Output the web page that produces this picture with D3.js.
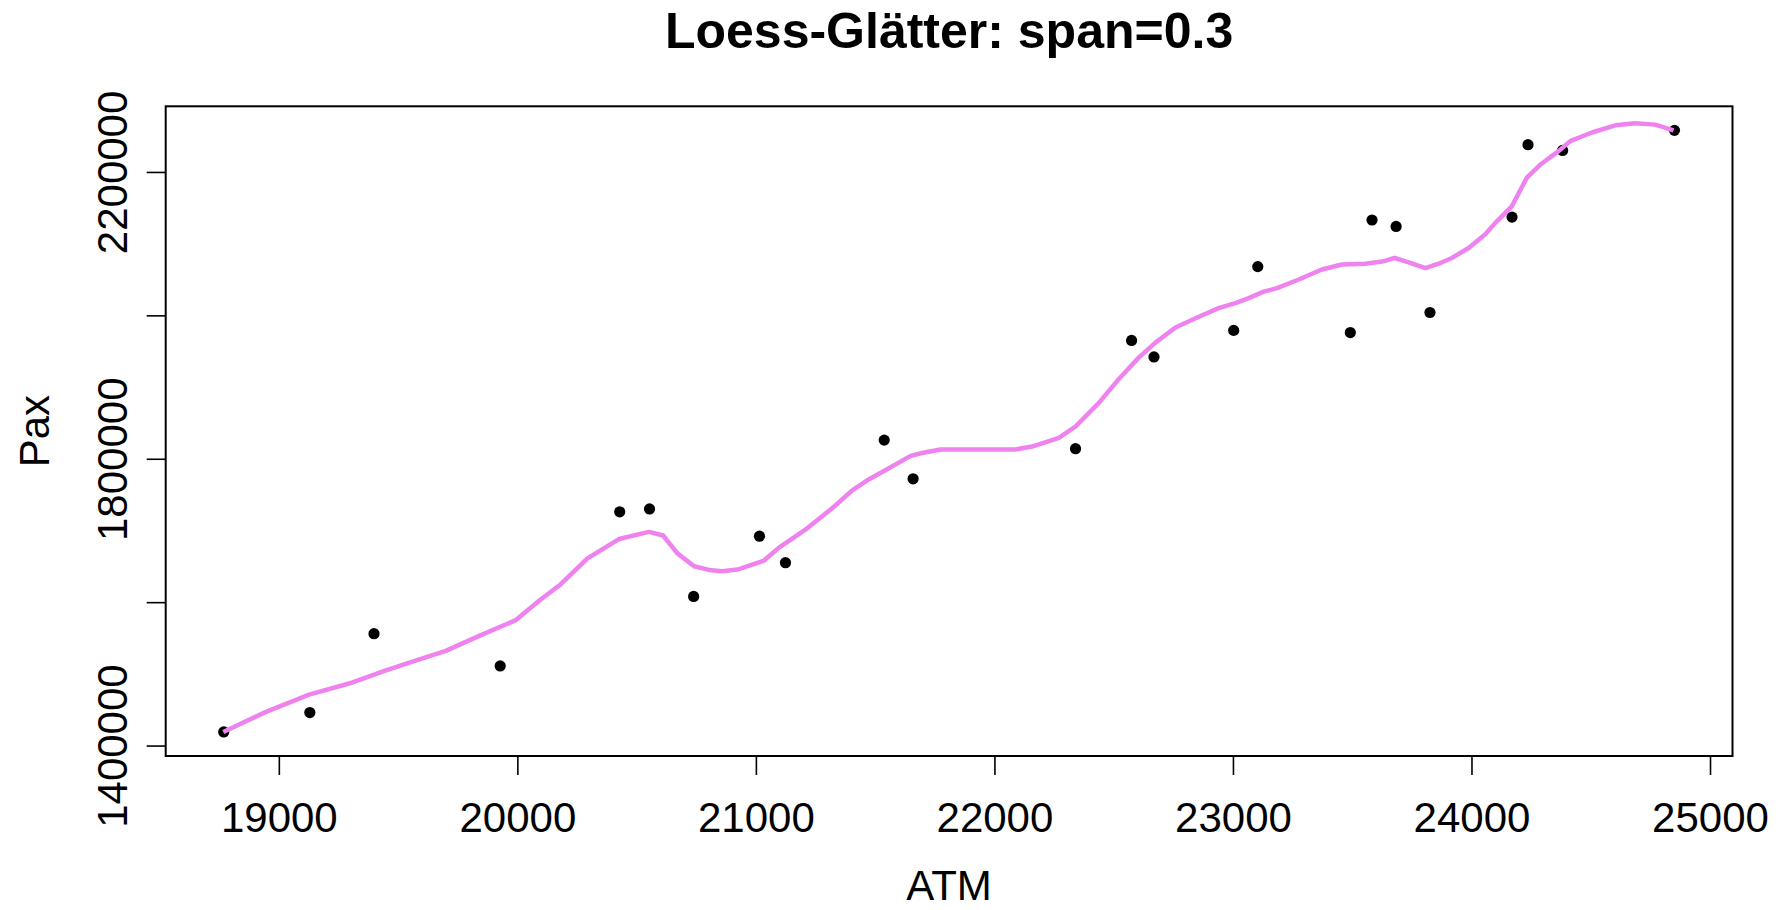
<!DOCTYPE html>
<html>
<head>
<meta charset="utf-8">
<script src="https://cdn.jsdelivr.net/npm/d3@7"></script>
<style>
  html, body { margin: 0; padding: 0; background: #fff; }
  svg { display: block; font-family: "Liberation Sans", Arial, Helvetica, sans-serif; }
</style>
</head>
<body>
<svg width="1789" height="910"></svg>
<script>
// Beobachtungen (ATM / Pax)
const atm = [18769, 19130, 19399, 19928, 20429, 20554, 20739, 21015, 21124, 21538, 21659, 22340,
  22575, 22669, 23003, 23104, 23492, 23583, 23684, 23826, 24170, 24237, 24382, 24851]
const pax = [1419000, 1446000, 1556000, 1511000, 1726000, 1730000, 1608000, 1692000, 1655000, 1826000, 1772000, 1814000,
  1965000, 1942000, 1979000, 2068000, 1976000, 2133000, 2124000, 2004000, 2137000, 2238000, 2230000, 2258000]

const loessX = [18767, 18946, 19127, 19309, 19449, 19560, 19700, 19840, 19994, 20091, 20182, 20294,
  20426, 20552, 20611, 20671, 20741, 20803, 20859, 20929, 21034, 21097, 21215, 21320,
  21404, 21467, 21537, 21649, 21697, 21774, 21977, 22089, 22158, 22270, 22340, 22438,
  22521, 22605, 22675, 22759, 22850, 22940, 23010, 23066, 23129, 23185, 23276, 23373,
  23457, 23555, 23625, 23678, 23737, 23807, 23862, 23918, 23988, 24058, 24100, 24169,
  24232, 24288, 24365, 24414, 24505, 24603, 24686, 24770, 24847]
const loessY = [1419000, 1447000, 1471000, 1488000, 1505000, 1517000, 1532000, 1553000, 1575000, 1602000, 1625000, 1661000,
  1688000, 1698000, 1693000, 1668000, 1650000, 1645000, 1643000, 1646000, 1658000, 1676000, 1703000, 1731000,
  1756000, 1770000, 1783000, 1804000, 1808000, 1813000, 1813000, 1813000, 1817000, 1829000, 1845000, 1878000,
  1911000, 1941000, 1962000, 1983000, 1997000, 2010000, 2017000, 2024000, 2033000, 2038000, 2050000, 2064000,
  2071000, 2072000, 2075000, 2080000, 2074000, 2066000, 2072000, 2080000, 2094000, 2113000, 2129000, 2152000,
  2192000, 2210000, 2229000, 2243000, 2255000, 2265000, 2268000, 2266000, 2258000]

const xTicks = [19000, 20000, 21000, 22000, 23000, 24000, 25000]
const yTicks = [1400000, 1600000, 1800000, 2000000, 2200000]
const yTickLabels = [1400000, 1800000, 2200000]  // R laesst ueberlappende Beschriftungen weg

const title = 'Loess-Glätter: span=0.3'
const xLabel = 'ATM'
const yLabel = 'Pax'

// Plotbereich
const plotLeft = 165.7
const plotRight = 1732.5
const plotTop = 106.3
const plotBottom = 756
const fontSize = 42

const svg = d3.select('svg')

// R-typische Achsenerweiterung um 4 %
const pad = (ext) => {
  const r = ext[1] - ext[0]
  return [ext[0] - 0.04 * r, ext[1] + 0.04 * r]
}

const xScale = d3.scaleLinear().domain(pad(d3.extent(atm))).range([plotLeft, plotRight])
const yScale = d3.scaleLinear().domain(pad(d3.extent(pax))).range([plotBottom, plotTop])

// x-Achse
const xAxis = svg.append('g')
  .attr('transform', `translate(0, ${plotBottom})`)
  .call(d3.axisBottom(xScale).tickValues(xTicks).tickSize(19).tickFormat(d3.format('d')))
xAxis.select('.domain').remove()
xAxis.selectAll('line').attr('stroke', '#000').attr('stroke-width', 1.6)
xAxis.selectAll('text')
  .attr('y', 75.7)
  .attr('dy', null)
  .attr('fill', '#000')
  .style('font-size', fontSize + 'px')
  .style('font-family', '"Liberation Sans", Arial, sans-serif')

// y-Achse
const yAxis = svg.append('g')
  .attr('transform', `translate(${plotLeft}, 0)`)
  .call(d3.axisLeft(yScale).tickValues(yTicks).tickSize(19)
    .tickFormat((d) => yTickLabels.includes(d) ? d3.format('d')(d) : ''))
yAxis.select('.domain').remove()
yAxis.selectAll('line').attr('stroke', '#000').attr('stroke-width', 1.6)
yAxis.selectAll('text')
  .attr('x', null)
  .attr('dy', null)
  .attr('text-anchor', 'middle')
  .attr('transform', 'translate(-38.4, 0) rotate(-90)')
  .attr('fill', '#000')
  .style('font-size', fontSize + 'px')
  .style('font-family', '"Liberation Sans", Arial, sans-serif')

// Rahmen
svg.append('rect')
  .attr('x', plotLeft)
  .attr('y', plotTop)
  .attr('width', plotRight - plotLeft)
  .attr('height', plotBottom - plotTop)
  .attr('fill', 'none')
  .attr('stroke', '#000')
  .attr('stroke-width', 2)

// Punkte
svg.append('g')
  .selectAll('circle')
  .data(atm)
  .enter()
  .append('circle')
  .attr('cx', (d) => xScale(d))
  .attr('cy', (d, i) => yScale(pax[i]))
  .attr('r', 5.6)
  .attr('fill', '#000')

// Loess-Linie
const line = d3.line()
  .x((d) => xScale(d[0]))
  .y((d) => yScale(d[1]))
svg.append('path')
  .datum(loessX.map((x, i) => [x, loessY[i]]))
  .attr('d', line)
  .attr('fill', 'none')
  .attr('stroke', 'violet')
  .attr('stroke-width', 4.5)
  .attr('stroke-linejoin', 'round')

// Titel und Achsenbeschriftungen
svg.append('text')
  .attr('x', (plotLeft + plotRight) / 2)
  .attr('y', 48)
  .attr('text-anchor', 'middle')
  .style('font-size', '50px')
  .style('font-weight', 'bold')
  .text(title)

svg.append('text')
  .attr('x', (plotLeft + plotRight) / 2)
  .attr('y', 900)
  .attr('text-anchor', 'middle')
  .style('font-size', fontSize + 'px')
  .text(xLabel)

svg.append('text')
  .attr('transform', `translate(49.3, ${(plotTop + plotBottom) / 2}) rotate(-90)`)
  .attr('text-anchor', 'middle')
  .style('font-size', fontSize + 'px')
  .text(yLabel)
</script>
</body>
</html>
